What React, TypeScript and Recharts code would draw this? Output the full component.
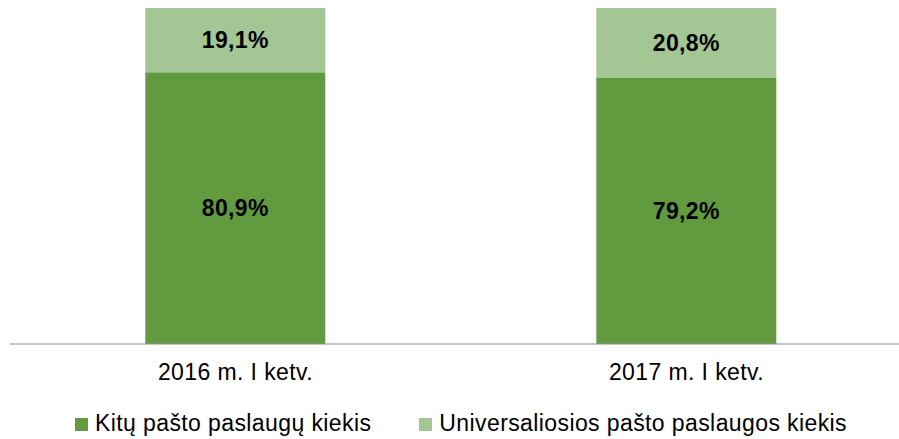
import React from 'react';
import { BarChart, Bar, XAxis, YAxis, LabelList, Legend } from 'recharts';

const categories = ['2016 m. I ketv.', '2017 m. I ketv.'];
const otherServices = [80.9, 79.2];
const universalService = [19.1, 20.8];
const seriesNames = ['Kitų pašto paslaugų kiekis', 'Universaliosios pašto paslaugos kiekis'];
const seriesColors = ['#629B3F', '#A4C594'];
const boundaryTicks = [0, 1, 2];

const data = categories.map((c, i) => ({
  name: c,
  other: otherServices[i],
  universal: universalService[i],
}));

const FONT = '"Liberation Sans", Arial, sans-serif';
const fmt = (v: any) => `${Number(v).toFixed(1).replace('.', ',')}%`;

function LegendContent(props: any) {
  const payload = props.payload || [];
  return (
    <div
      style={{
        display: 'flex',
        justifyContent: 'center',
        height: 29,
        fontFamily: FONT,
        fontSize: 23,
        letterSpacing: 0.4,
        color: '#000',
      }}
    >
      {payload.map((p: any, i: number) => (
        <div key={i} style={{ display: 'flex', alignItems: 'flex-start', marginLeft: i ? 48 : 0 }}>
          <div style={{ width: 13, height: 13, background: p.color, marginTop: 8, marginRight: 7 }} />
          <span style={{ lineHeight: 'normal', whiteSpace: 'nowrap' }}>{p.value}</span>
        </div>
      ))}
    </div>
  );
}

export default function App() {
  return (
    <div style={{ position: 'absolute', left: 0, top: 0, width: 899, height: 439, overflow: 'hidden', background: '#fff' }}>
      <BarChart
        width={922}
        height={439}
        data={data}
        margin={{ top: 8, right: 10, left: 10, bottom: 0 }}
        barCategoryGap="30%"
        style={{ fontFamily: FONT }}
      >
        <XAxis
          xAxisId="bound"
          type="number"
          domain={[0, 2]}
          allowDataOverflow
          ticks={boundaryTicks}
          height={1}
          tick={false}
          tickSize={7}
          axisLine={{ stroke: '#8C8C8C', strokeWidth: 1 }}
          tickLine={{ stroke: '#8C8C8C', strokeWidth: 1 }}
        />
        <XAxis
          xAxisId="cat"
          dataKey="name"
          height={65}
          axisLine={false}
          tickLine={false}
          tickSize={6}
          tickMargin={13}
          interval={0}
          tick={{ fill: '#000', fontSize: 23, fontFamily: FONT, letterSpacing: 0.4 }}
        />
        <YAxis hide type="number" domain={[0, 100]} />
        <Legend verticalAlign="bottom" layout="horizontal" content={<LegendContent />} />
        <Bar xAxisId="cat" dataKey="other" name={seriesNames[0]} stackId="a" fill={seriesColors[0]} isAnimationActive={false}>
          <LabelList
            dataKey="other"
            position="center"
            formatter={fmt}
            fill="#000"
            fontSize={23}
            fontWeight="bold"
            fontFamily={FONT}
            style={{ letterSpacing: 0.4 }}
          />
        </Bar>
        <Bar xAxisId="cat" dataKey="universal" name={seriesNames[1]} stackId="a" fill={seriesColors[1]} isAnimationActive={false}>
          <LabelList
            dataKey="universal"
            position="center"
            formatter={fmt}
            fill="#000"
            fontSize={23}
            fontWeight="bold"
            fontFamily={FONT}
            style={{ letterSpacing: 0.4 }}
          />
        </Bar>
      </BarChart>
    </div>
  );
}
